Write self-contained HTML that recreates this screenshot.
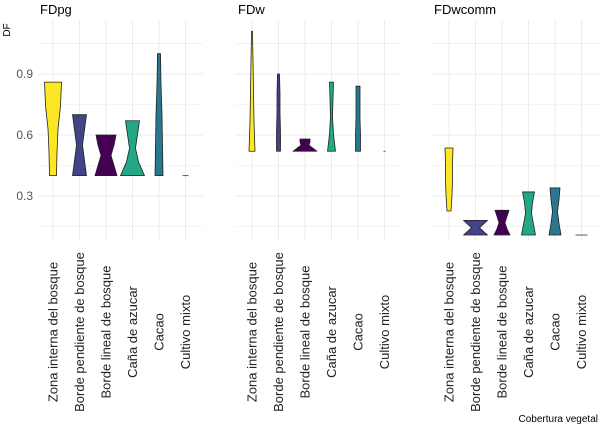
<!DOCTYPE html>
<html><head><meta charset="utf-8"><style>
body{margin:0;background:#fff;}
svg{display:block;font-family:"Liberation Sans",sans-serif;}
</style></head><body>
<svg id="chart" width="600" height="431" viewBox="0 0 600 431">
<g id="g"></g>
<text x="10" y="30" transform="rotate(-90 10 30)" text-anchor="middle" font-size="10" fill="#000">DF</text>
<text x="598" y="422" text-anchor="end" font-size="10" fill="#000">Cobertura vegetal</text>
</svg>
<script>
const categories = ["Zona interna del bosque","Borde pendiente de bosque","Borde lineal de bosque","Caña de azucar","Cacao","Cultivo mixto"];
const panels = ["FDpg","FDw","FDwcomm"];
const yTicks = [0.3,0.6,0.9];
const minsFDpg = [0.40,0.40,0.40,0.40,0.40,0.40];
const maxsFDpg = [0.86,0.70,0.60,0.67,1.00,0.40];
const minsFDw = [0.52,0.52,0.52,0.52,0.52,0.52];
const maxsFDw = [1.11,0.90,0.58,0.86,0.84,0.52];
const minsFDwcomm = [0.226,0.108,0.108,0.108,0.108,0.108];
const maxsFDwcomm = [0.536,0.18,0.23,0.32,0.34,0.108];
// violin half-width profiles (bottom -> top)
const shapesFDpg = [[3.5,4,5,7.5,8.5],[7,5,3,5,7],[11,8,5,8,10],[12,6,3,5,7],[4,3.5,3,2,1.5],[3,3,3,3,3]];
const shapesFDw = [[3,2,1.5,1,0.5],[2,2,1.5,1.5,1],[12,8,4,5,5],[4,2,1,1.5,2],[2.5,2.5,2,2,2],[1,1,1,1,1]];
const shapesFDwcomm = [[2,3,3.5,3.5,4],[12,8,4,8,12],[8,5,3,5,7],[7,5,3,4,6],[6,4,2.5,4,5],[6,6,6,6,6]];
const colors = ["#FDE725","#414487","#440154","#22A884","#2A788E","#888888"];

const mins=[minsFDpg,minsFDw,minsFDwcomm], maxs=[maxsFDpg,maxsFDw,maxsFDwcomm], shapes=[shapesFDpg,shapesFDw,shapesFDwcomm];
const px=[{x0:38,x1:203,c0:53},{x0:236,x1:400,c0:252},{x0:432,x1:600,c0:449}];
const step=26.5, plotTop=20, plotBot=240;
function yS(v){return 135-(v-0.6)*203.3;}
const NS="http://www.w3.org/2000/svg";
const g=document.getElementById('g');
function mk(t,a){const e=document.createElementNS(NS,t);for(const k in a)e.setAttribute(k,a[k]);g.appendChild(e);return e;}
panels.forEach((p,pi)=>{
  const P=px[pi];
  for(let v=0.15;v<=1.06;v+=0.15){const y=yS(v);
    const l=mk('line',{x1:P.x0,x2:P.x1,y1:y,y2:y,stroke:'#ebebeb','stroke-width':(Math.round(v*100)%30===0)?1:0.6});
    
    }
  categories.forEach((c,i)=>{const x=P.c0+i*step;
    const l=mk('line',{x1:x,x2:x,y1:plotTop,y2:plotBot,stroke:'#ebebeb','stroke-width':1});
    
    
    const t=mk('text',{x:0,y:0,transform:`translate(${x+4.5},332) rotate(-90)`,'text-anchor':'middle','font-size':'13',fill:'#222'});
    t.textContent=c;
    
    
  });
  const tt=mk('text',{x:P.x0+2,y:14,'font-size':'13',fill:'#000'});tt.textContent=p;
  
  
  if(pi===0){yTicks.forEach(v=>{const t=mk('text',{x:33,y:yS(v)+4,'text-anchor':'end','font-size':'12',fill:'#555'});t.textContent=v.toFixed(1);
    
    });}
  categories.forEach((c,i)=>{const x=P.c0+i*step;const lo=mins[pi][i],hi=maxs[pi][i],s=shapes[pi][i];
    const y0=yS(lo),y1=yS(hi);
    if(Math.abs(y1-y0)<1){const l=mk('line',{x1:x-s[0],x2:x+s[0],y1:y0,y2:y0,stroke:'#333','stroke-width':0.8});
      
      return;}
    const n=s.length;let R=[],L=[];
    s.forEach((w,k)=>{const y=y0+(y1-y0)*k/(n-1);R.push(`${x+w},${y}`);L.unshift(`${x-w},${y}`);});
    const v=mk('path',{d:`M${x-s[0]},${y0} L${R.join(' L')} L${L.join(' L')} Z`,fill:colors[i],stroke:'#222','stroke-width':0.8,'stroke-linejoin':'round'});
    
    
  });
});
</script>
</body></html>
